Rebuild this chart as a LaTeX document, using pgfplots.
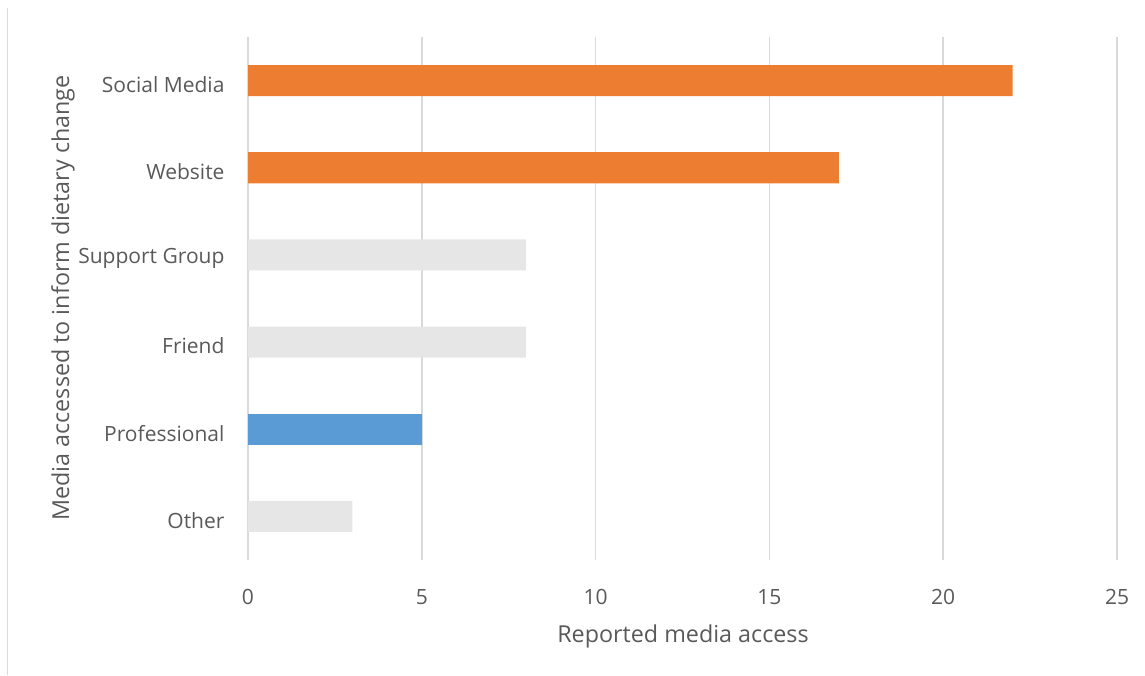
\documentclass[border=0pt]{standalone}
\usepackage{fontspec}
\setmainfont{Open Sans}
\usepackage{pgfplots}
\pgfplotsset{compat=1.18}
\definecolor{txt}{HTML}{595959}
\definecolor{gridc}{HTML}{D9D9D9}
\definecolor{org}{HTML}{ED7D31}
\definecolor{blu}{HTML}{5B9BD5}
\definecolor{gry}{HTML}{E7E6E6}
\begin{document}
\begin{tikzpicture}[x=1pt,y=1pt]
\path[use as bounding box] (0,0) rectangle (1145,675);
\draw[gridc, line width=1.5pt] (7.5,0) -- (7.5,667);
\begin{axis}[
  at={(248pt,115pt)}, anchor=south west,
  scale only axis, width=869pt, height=523pt,
  xmin=0, xmax=25, ymin=-0.5, ymax=5.5,
  xtick={0,5,...,25},
  ytick={0,...,5},
  yticklabels={Other,Professional,Friend,Support Group,Website,Social Media},
  axis line style={draw=none},
  major tick length=0pt,
  xmajorgrids, grid style={draw=gridc, line width=1.5pt},
  ymajorgrids=false,
  tick label style={font=\fontsize{21}{25}\selectfont, text=txt},
  xticklabel style={yshift=-26pt},
  yticklabel style={xshift=-20pt, yshift=-4pt},
  /pgf/number format/assume math mode=true,
  xbar, bar width=31pt, bar shift=0pt,
  clip=false,
]
\addplot[draw=none, fill=org] coordinates {(22,5) (17,4)};
\addplot[draw=none, fill=gry] coordinates {(8,3) (8,2) (3,0)};
\addplot[draw=none, fill=blu] coordinates {(5,1)};
\end{axis}
\node[text=txt, font=\fontsize{23.3}{28}\selectfont, rotate=90] at (63,377) {Media accessed to inform dietary change};
\node[text=txt, font=\fontsize{23.3}{28}\selectfont] at (683,39) {Reported media access};
\end{tikzpicture}
\end{document}
